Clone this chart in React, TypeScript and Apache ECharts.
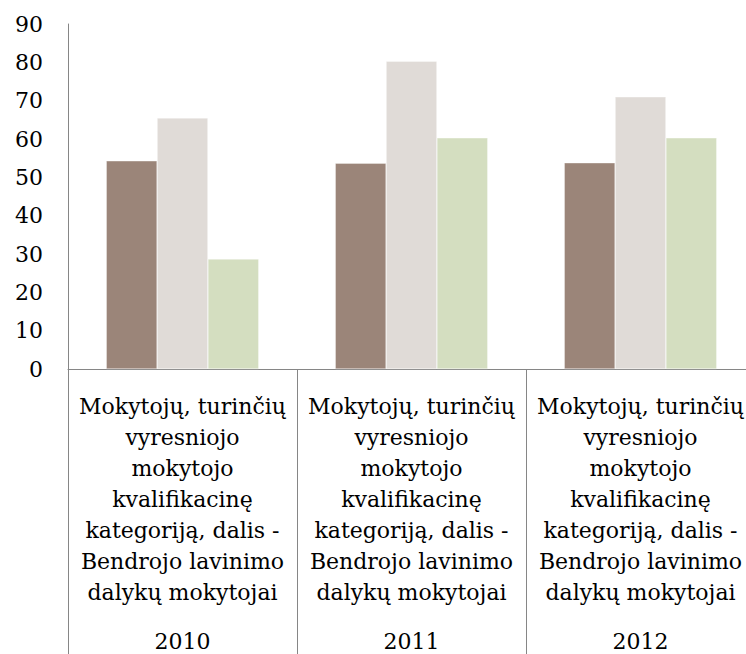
import React, { useEffect, useRef } from "react";
import * as echarts from "echarts";

const years = ["2010", "2011", "2012"];
const categoryText =
  "Mokytojų, turinčių\nvyresniojo\nmokytojo\nkvalifikacinę\nkategoriją, dalis -\nBendrojo lavinimo\ndalykų mokytojai";
const seriesA = [54.3, 53.7, 53.8];
const seriesB = [65.5, 80.3, 71.0];
const seriesC = [28.7, 60.3, 60.3];
const colors = ["#9B8579", "#E0DBD7", "#D4DEC0"];
const yMin = 0;
const yMax = 90;
const yStep = 10;

export default function App() {
  const ref = useRef<HTMLDivElement>(null);
  useEffect(() => {
    if (!ref.current) return;
    const chart = echarts.init(ref.current, null, { renderer: "svg" });
    const font = "'DejaVu Serif', serif";
    const mk = (data: number[], i: number) => ({
      type: "bar",
      data,
      barGap: "0%",
      barCategoryGap: "33.4%",
      itemStyle: { color: colors[i], borderColor: "rgba(255,255,255,0.7)", borderWidth: 0.5 },
    });
    chart.setOption({
      animation: false,
      grid: {
        left: 68,
        top: 24,
        bottom: 285,
        right: -9,
        containLabel: false,
        outerBoundsMode: "none",
      },
      xAxis: {
        type: "category",
        data: years,
        axisLine: { show: true, lineStyle: { color: "#868686", width: 1 } },
        axisTick: {
          show: true,
          alignWithLabel: false,
          interval: 0,
          length: 290,
          lineStyle: { color: "#868686", width: 1 },
        },
        axisLabel: {
          interval: 0,
          margin: 22,
          color: "#000",
          fontFamily: font,
          fontSize: 22,
          lineHeight: 31,
          hideOverlap: false,
          formatter: (v: string) => categoryText + "\n{y|" + v + "}",
          rich: {
            y: { fontFamily: font, fontSize: 22, lineHeight: 66, color: "#000" },
          },
        },
      },
      yAxis: {
        type: "value",
        min: yMin,
        max: yMax,
        interval: yStep,
        axisLine: { show: true, lineStyle: { color: "#868686", width: 1 } },
        axisTick: { show: false },
        splitLine: { show: false },
        axisLabel: { color: "#000", fontFamily: font, fontSize: 22, margin: 25 },
      },
      series: [mk(seriesA, 0), mk(seriesB, 1), mk(seriesC, 2)],
    });
    return () => chart.dispose();
  }, []);
  return <div ref={ref} style={{ width: 746, height: 654, position: "absolute", left: 0, top: 0 }} />;
}
